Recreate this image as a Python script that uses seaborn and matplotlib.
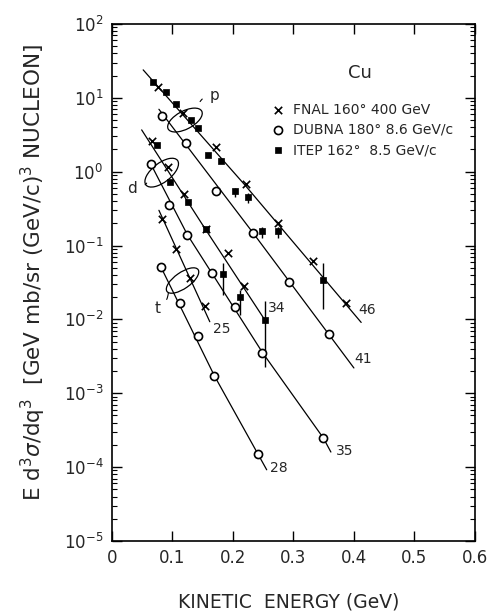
import numpy as np
import pandas as pd
import seaborn as sns
import matplotlib.pyplot as plt
from matplotlib.patches import Ellipse
from matplotlib.transforms import ScaledTranslation
from matplotlib.ticker import LogLocator, NullFormatter

# FNAL 160 deg 400 GeV  (p, d, t)
fnal_x = [0.077, 0.118, 0.172, 0.222, 0.274, 0.333, 0.3865,
          0.066, 0.0925, 0.120, 0.156, 0.1926, 0.2185,
          0.0826, 0.107, 0.129, 0.154]
fnal_y = [14.2, 6.3, 2.14, 0.68, 0.20, 0.061, 0.0166,
          2.61, 1.15, 0.50, 0.17, 0.079, 0.028,
          0.23, 0.089, 0.036, 0.015]

# DUBNA 180 deg 8.6 GeV/c
dubna_x = [0.0826, 0.1227, 0.173, 0.233, 0.293, 0.3594,
           0.0644, 0.0946, 0.125, 0.166, 0.2036, 0.249, 0.3495,
           0.0814, 0.1128, 0.142, 0.1695, 0.241]
dubna_y = [5.7, 2.48, 0.54, 0.150, 0.0316, 0.0064,
           1.28, 0.356, 0.140, 0.043, 0.0147, 0.00356, 0.000248,
           0.051, 0.0166, 0.0059, 0.00173, 0.000150]

# ITEP 162 deg 8.5 GeV/c
itep_x = [0.0687, 0.089, 0.106, 0.131, 0.142, 0.159, 0.180, 0.204, 0.225, 0.249, 0.274, 0.3485,
          0.0743, 0.0963, 0.1265, 0.155, 0.183, 0.212, 0.253]
itep_y = [16.6, 11.9, 8.2, 5.0, 3.9, 1.69, 1.41, 0.54, 0.45, 0.155, 0.155, 0.034,
          2.31, 0.73, 0.39, 0.167, 0.041, 0.020, 0.0099]
itep_lo = [16.6, 11.9, 8.2, 5.0, 3.9, 1.69, 1.41, 0.46, 0.38, 0.126, 0.126, 0.0138,
           2.31, 0.73, 0.36, 0.167, 0.0215, 0.0115, 0.0023]
itep_hi = [16.6, 11.9, 8.2, 5.0, 3.9, 1.69, 1.41, 0.60, 0.52, 0.18, 0.18, 0.058,
           2.31, 0.73, 0.42, 0.167, 0.058, 0.025, 0.0175]

# fitted curves (label, x knots, y knots, label position)
curves = {
    "46": ([0.052, 0.22, 0.412], [23.9, 0.66, 0.0091], (0.407, 0.0135)),
    "41": ([0.078, 0.233, 0.400], [7.0, 0.15, 0.0022], (0.400, 0.0029)),
    "34": ([0.0495, 0.155, 0.256], [3.68, 0.165, 0.0090], (0.2587, 0.0142)),
    "35": ([0.0644, 0.125, 0.249, 0.3495, 0.362], [1.28, 0.140, 0.00356, 0.000248, 0.00016], (0.3704, 0.000163)),
    "25": ([0.078, 0.162], [0.30, 0.0093], (0.167, 0.00746)),
    "28": ([0.0814, 0.1695, 0.256], [0.051, 0.00173, 0.000092], (0.2615, 0.0000973)),
}

# particle groups: centre, ellipse w/h (inch), angle, tail start, label pos
groups = {
    "p": ((0.121, 5.0), 0.38, 0.18, 28, (0.146, 8.9), (0.1706, 10.9)),
    "d": ((0.0826, 0.97), 0.40, 0.19, 38, (0.0578, 0.70), (0.034, 0.60)),
    "t": ((0.117, 0.0336), 0.38, 0.16, 35, (0.0935, 0.0227), (0.0753, 0.0142)),
}

xticks = [0, 0.1, 0.2, 0.3, 0.4, 0.5, 0.6]
xtick_labels = ["0", "0.1", "0.2", "0.3", "0.4", "0.5", "0.6"]

sns.set_style("ticks")
plt.rcParams["font.family"] = ["DejaVu Sans"]

fig = plt.figure(figsize=(4.89, 6.16), dpi=100)
ax = fig.add_axes([0.2284, 0.1218, 0.743, 0.8393])
ax.set_yscale("log")
ax.set_xlim(0, 0.6)
ax.set_ylim(1e-5, 1e2)

for name, (cx, cy, lab) in curves.items():
    df = pd.DataFrame({"x": cx, "y": cy})
    sns.lineplot(data=df, x="x", y="y", ax=ax, color="black", lw=0.9,
                 sort=False, estimator=None, zorder=1)
    ax.text(lab[0], lab[1], name, fontsize=10, ha="left", va="center")

ax.vlines(itep_x, itep_lo, itep_hi, color="black", lw=1.0, zorder=2)

sns.scatterplot(x=fnal_x, y=fnal_y, ax=ax, marker="x", s=28, color="black",
                linewidth=1.2, label="FNAL 160° 400 GeV", zorder=3)
sns.scatterplot(x=dubna_x, y=dubna_y, ax=ax, marker="o", s=34, facecolor="white",
                edgecolor="black", linewidth=1.2, label="DUBNA 180° 8.6 GeV/c", zorder=3)
sns.scatterplot(x=itep_x, y=itep_y, ax=ax, marker="s", s=20, color="black",
                edgecolor="black", linewidth=0.5, label="ITEP 162°  8.5 GeV/c", zorder=4)

for g, (c, w, h, ang, tail, lpos) in groups.items():
    tr = fig.dpi_scale_trans + ScaledTranslation(c[0], c[1], ax.transData)
    ax.add_patch(Ellipse((0, 0), w, h, angle=ang, transform=tr, fill=False,
                         edgecolor="black", lw=0.9, zorder=2))
    ax.annotate(g, xy=tail, xytext=lpos, fontsize=11, ha="center", va="center",
                arrowprops=dict(arrowstyle="-", lw=0.8, color="black",
                                connectionstyle="arc3,rad=0.3", shrinkA=4, shrinkB=0))

ax.text(0.683, 0.905, "Cu", transform=ax.transAxes, fontsize=13, ha="center", va="center")

ax.legend(loc="upper left", bbox_to_anchor=(0.404, 0.872), frameon=False, fontsize=10,
          handlelength=1.0, handletextpad=0.6, labelspacing=0.45, borderpad=0.4)

ax.set_xticks(xticks)
ax.set_xticklabels(xtick_labels)
ax.yaxis.set_major_locator(LogLocator(base=10, numticks=10))
ax.yaxis.set_minor_locator(LogLocator(base=10, subs=np.arange(2, 10), numticks=20))
ax.yaxis.set_minor_formatter(NullFormatter())
ax.tick_params(which="both", direction="in", top=True, right=True, color="black")
ax.tick_params(which="major", length=7, width=1, labelsize=12, pad=6)
ax.tick_params(which="minor", length=3.5, width=0.8)
for sp in ax.spines.values():
    sp.set_linewidth(1.2)
    sp.set_color("black")

ax.set_xlabel("KINETIC  ENERGY (GeV)", fontsize=13.5)
ax.xaxis.set_label_coords(0.487, -0.100)
ax.xaxis.label.set_va("top")
ax.set_ylabel(r"E d$^3\sigma$/dq$^3$  [GeV mb/sr (GeV/c)$^3$ NUCLEON]", fontsize=15.5)
ax.yaxis.set_label_coords(-0.175, 0.52)

fig.savefig("out.png", dpi=100)
